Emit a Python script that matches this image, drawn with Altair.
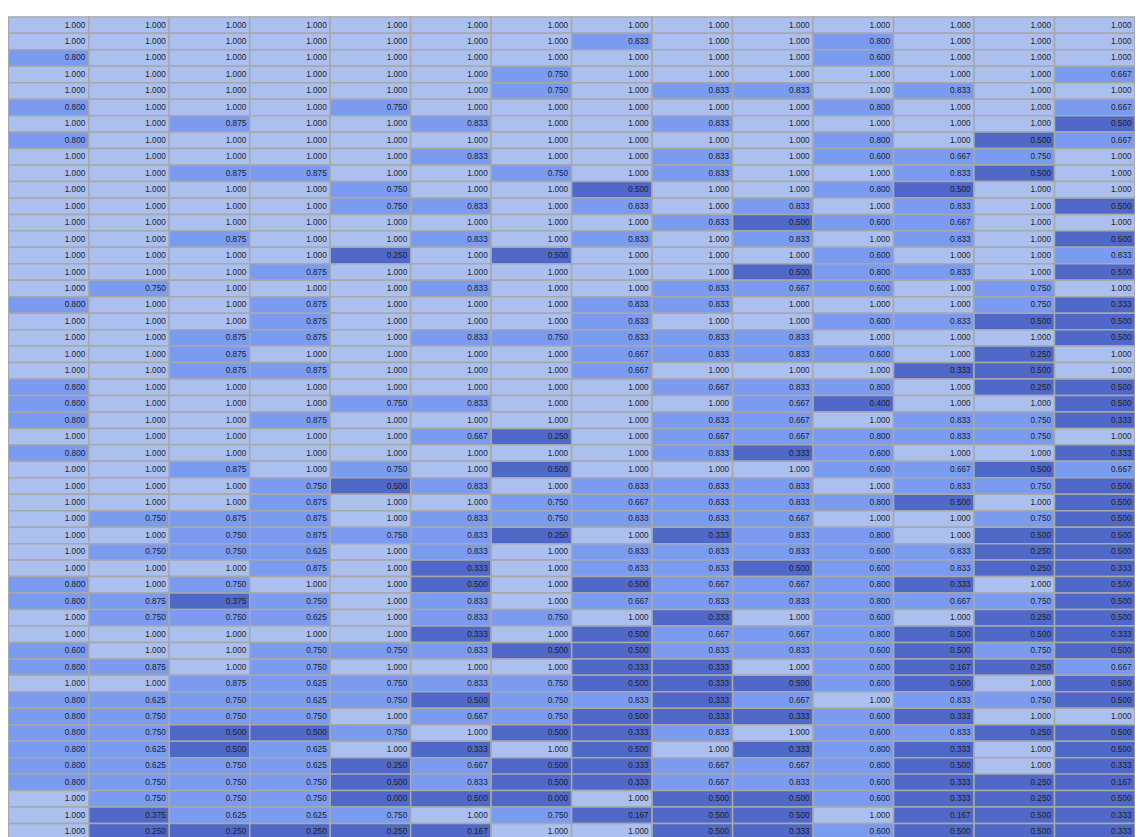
import altair as alt
import pandas as pd

# Column headers (not displayed in the reference; columns are just indices)
columns = [f"C{i+1:02d}" for i in range(14)]

rows_01_10 = [
    [1, 1, 1, 1, 1, 1, 1, 1, 1, 1, 1, 1, 1, 1],
    [1, 1, 1, 1, 1, 1, 1, .833, 1, 1, .8, 1, 1, 1],
    [.8, 1, 1, 1, 1, 1, 1, 1, 1, 1, .6, 1, 1, 1],
    [1, 1, 1, 1, 1, 1, .75, 1, 1, 1, 1, 1, 1, .667],
    [1, 1, 1, 1, 1, 1, .75, 1, .833, .833, 1, .833, 1, 1],
    [.8, 1, 1, 1, .75, 1, 1, 1, 1, 1, .8, 1, 1, .667],
    [1, 1, .875, 1, 1, .833, 1, 1, .833, 1, 1, 1, 1, .5],
    [.8, 1, 1, 1, 1, 1, 1, 1, 1, 1, .8, 1, .5, .667],
    [1, 1, 1, 1, 1, .833, 1, 1, .833, 1, .6, .667, .75, 1],
    [1, 1, .875, .875, 1, 1, .75, 1, .833, 1, 1, .833, .5, 1],
]
rows_11_20 = [
    [1, 1, 1, 1, .75, 1, 1, .5, 1, 1, .8, .5, 1, 1],
    [1, 1, 1, 1, .75, .833, 1, .833, 1, .833, 1, .833, 1, .5],
    [1, 1, 1, 1, 1, 1, 1, 1, .833, .5, .6, .667, 1, 1],
    [1, 1, .875, 1, 1, .833, 1, .833, 1, .833, 1, .833, 1, .5],
    [1, 1, 1, 1, .25, 1, .5, 1, 1, 1, .6, 1, 1, .833],
    [1, 1, 1, .875, 1, 1, 1, 1, 1, .5, .8, .833, 1, .5],
    [1, .75, 1, 1, 1, .833, 1, 1, .833, .667, .6, 1, .75, 1],
    [.8, 1, 1, .875, 1, 1, 1, .833, .833, 1, 1, 1, .75, .333],
    [1, 1, 1, .875, 1, 1, 1, .833, 1, 1, .6, .833, .5, .5],
    [1, 1, .875, .875, 1, .833, .75, .833, .833, .833, 1, 1, 1, .5],
]
rows_21_30 = [
    [1, 1, .875, 1, 1, 1, 1, .667, .833, .833, .6, 1, .25, 1],
    [1, 1, .875, .875, 1, 1, 1, .667, 1, 1, 1, .333, .5, 1],
    [.8, 1, 1, 1, 1, 1, 1, 1, .667, .833, .8, 1, .25, .5],
    [.8, 1, 1, 1, .75, .833, 1, 1, 1, .667, .4, 1, 1, .5],
    [.8, 1, 1, .875, 1, 1, 1, 1, .833, .667, 1, .833, .75, .333],
    [1, 1, 1, 1, 1, .667, .25, 1, .667, .667, .8, .833, .75, 1],
    [.8, 1, 1, 1, 1, 1, 1, 1, .833, .333, .6, 1, 1, .333],
    [1, 1, .875, 1, .75, 1, .5, 1, 1, 1, .6, .667, .5, .667],
    [1, 1, 1, .75, .5, .833, 1, .833, .833, .833, 1, .833, .75, .5],
    [1, 1, 1, .875, 1, 1, .75, .667, .833, .833, .8, .5, 1, .5],
]
rows_31_40 = [
    [1, .75, .875, .875, 1, .833, .75, .833, .833, .667, 1, 1, .75, .5],
    [1, 1, .75, .875, .75, .833, .25, 1, .333, .833, .8, 1, .5, .5],
    [1, .75, .75, .625, 1, .833, 1, .833, .833, .833, .6, .833, .25, .5],
    [1, 1, 1, .875, 1, .333, 1, .833, .833, .5, .6, .833, .25, .333],
    [.8, 1, .75, 1, 1, .5, 1, .5, .667, .667, .8, .333, 1, .5],
    [.8, .875, .375, .75, 1, .833, 1, .667, .833, .833, .8, .667, .75, .5],
    [1, .75, .75, .625, 1, .833, .75, 1, .333, 1, .6, 1, .25, .5],
    [1, 1, 1, 1, 1, .333, 1, .5, .667, .667, .8, .5, .5, .333],
    [.6, 1, 1, .75, .75, .833, .5, .5, .833, .833, .6, .5, .75, .5],
    [.8, .875, 1, .75, 1, 1, 1, .333, .333, 1, .6, .167, .25, .667],
]
rows_41_50 = [
    [1, 1, .875, .625, .75, .833, .75, .5, .333, .5, .6, .5, 1, .5],
    [.8, .625, .75, .625, .75, .5, .75, .833, .333, .667, 1, .833, .75, .5],
    [.8, .75, .75, .75, 1, .667, .75, .5, .333, .333, .6, .333, 1, 1],
    [.8, .75, .5, .5, .75, 1, .5, .333, .833, 1, .6, .833, .25, .5],
    [.8, .625, .5, .625, 1, .333, 1, .5, 1, .333, .8, .333, 1, .5],
    [.8, .625, .75, .625, .25, .667, .5, .333, .667, .667, .8, .5, 1, .333],
    [.8, .75, .75, .75, .5, .833, .5, .333, .667, .833, .6, .333, .25, .167],
    [1, .75, .75, .75, 0, .5, 0, 1, .5, .5, .6, .333, .25, .5],
    [1, .375, .625, .625, .75, 1, .75, .167, .5, .5, 1, .167, .5, .333],
    [1, .25, .25, .25, .25, .167, 1, 1, .5, .333, .6, .5, .5, .333],
]

all_rows = rows_01_10 + rows_11_20 + rows_21_30 + rows_31_40 + rows_41_50

records = []
for r, row in enumerate(all_rows):
    for c, v in enumerate(row):
        band = "full" if v >= 1 else ("mid" if v > 0.5 else "low")
        records.append({"row": r, "col": columns[c], "value": v, "band": band})
df = pd.DataFrame(records)

COL_W = 81.3
ROW_H = 16.63
W = COL_W * len(columns)
H = ROW_H * len(all_rows)

x_enc = alt.X("col:O", axis=None, sort=columns,
              scale=alt.Scale(paddingInner=0, paddingOuter=0))
y_enc = alt.Y("row:O", axis=None,
              scale=alt.Scale(paddingInner=0, paddingOuter=0))

cells = alt.Chart(df).mark_rect(stroke="#a8a8a8", strokeWidth=1.5).encode(
    x=x_enc,
    y=y_enc,
    color=alt.Color("band:N", legend=None,
                    scale=alt.Scale(domain=["full", "mid", "low"],
                                    range=["#abc0ee", "#7a9bef", "#5069c8"])),
)

labels = alt.Chart(df).mark_text(
    align="right", baseline="middle", dx=COL_W / 2 - 3.5, dy=0.5,
    font="Liberation Sans", fontSize=8.3, color="#1e1e2a",
).encode(
    x=x_enc,
    y=y_enc,
    text=alt.Text("value:Q", format=".3f"),
)

chart = (cells + labels).properties(
    width=W, height=H,
    autosize=alt.AutoSizeParams(type="none"),
    padding={"left": 0.3, "top": 4.7, "right": 0, "bottom": 0},
).configure_view(stroke=None)

chart.save("out.html", embed_options={"renderer": "svg", "actions": False})
